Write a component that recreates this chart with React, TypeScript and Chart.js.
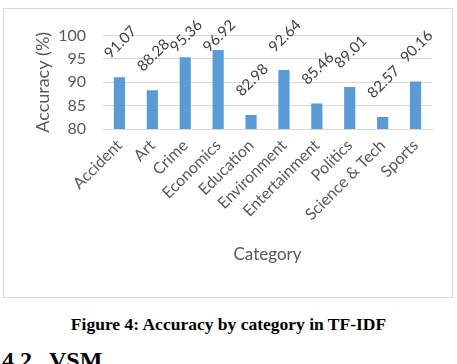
import React, { useEffect, useRef } from "react";
import { Chart, registerables } from "chart.js";

Chart.register(...registerables);

const categories = [
  "Accident",
  "Art",
  "Crime",
  "Economics",
  "Education",
  "Environment",
  "Entertainment",
  "Politics",
  "Science & Tech",
  "Sports",
];
const accuracy = [91.07, 88.28, 95.36, 96.92, 82.98, 92.64, 85.46, 89.01, 82.57, 90.16];

const FONT = "Lato, 'Open Sans', sans-serif";

const labelPlugin = {
  id: "rotLabels",
  afterDatasetsDraw(chart: any) {
    const ctx = chart.ctx;
    const meta = chart.getDatasetMeta(0);
    ctx.save();
    ctx.font = `15px ${FONT}`;
    ctx.fillStyle = "#404040";
    ctx.textAlign = "center";
    ctx.textBaseline = "middle";
    meta.data.forEach((el: any, i: number) => {
      const v = chart.data.datasets[0].data[i];
      const cy = Math.max(el.y - 35, 27);
      ctx.save();
      ctx.translate(el.x + 1, cy);
      ctx.rotate(-Math.PI / 4);
      ctx.fillText(v.toFixed(2), 0, 0);
      ctx.restore();
    });
    ctx.restore();
  },
};

export default function App() {
  const ref = useRef<HTMLCanvasElement>(null);
  useEffect(() => {
    const chart = new Chart(ref.current!, {
      type: "bar",
      data: {
        labels: categories,
        datasets: [
          {
            data: accuracy,
            backgroundColor: "#5b9bd5",
            barPercentage: 0.34,
            categoryPercentage: 1,
          },
        ],
      },
      options: {
        animation: false,
        responsive: false,
        layout: { padding: { left: 0, right: 20, top: 20, bottom: 0 } },
        plugins: { legend: { display: false }, tooltip: { enabled: false } },
        scales: {
          x: {
            afterFit: (s: any) => {
              s.height = 168;
            },
            grid: { display: false, drawTicks: false },
            border: { display: true, color: "#d9d9d9" },
            ticks: {
              maxRotation: 45,
              minRotation: 45,
              autoSkip: false,
              padding: 7,
              color: "#595959",
              font: { family: FONT, size: 16 },
            },
            title: {
              display: true,
              text: "Category",
              color: "#595959",
              font: { family: FONT, size: 17 },
              padding: { top: 0, bottom: 32 },
            },
          },
          y: {
            min: 80,
            max: 100,
            afterFit: (s: any) => {
              s.width = 99;
            },
            grid: { color: "#d9d9d9", drawTicks: false },
            border: { display: false },
            ticks: {
              stepSize: 5,
              padding: 17,
              color: "#595959",
              font: { family: FONT, size: 16 },
            },
            title: {
              display: true,
              text: "Accuracy (%)",
              color: "#595959",
              font: { family: FONT, size: 18 },
              padding: { top: 28, bottom: 0 },
            },
          },
        },
      },
      plugins: [labelPlugin],
    });
    return () => chart.destroy();
  }, []);

  return (
    <div style={{ position: "fixed", left: 0, top: 0, width: 457, height: 364, background: "#fff", overflow: "hidden" }}>
      <div
        style={{
          position: "absolute",
          left: 3,
          top: 8,
          width: 448,
          height: 288,
          border: "1px solid #d9d9d9",
        }}
      >
        <canvas ref={ref} width={448} height={288} style={{ display: "block" }} />
      </div>
      <div
        style={{
          position: "absolute",
          left: 0,
          width: 457,
          top: 314,
          textAlign: "center",
          fontFamily: "'Liberation Serif', 'Times New Roman', serif",
          fontWeight: "bold",
          fontSize: 17.5,
          color: "#000",
        }}
      >
        Figure 4: Accuracy by category in TF-IDF
      </div>
      <div
        style={{
          position: "absolute",
          left: 2,
          top: 347,
          fontFamily: "'Liberation Serif', 'Times New Roman', serif",
          fontWeight: "bold",
          fontSize: 24,
          color: "#000",
          whiteSpace: "pre",
        }}
      >
        4.2<span style={{ marginLeft: 17 }}>VSM</span>
      </div>
    </div>
  );
}
